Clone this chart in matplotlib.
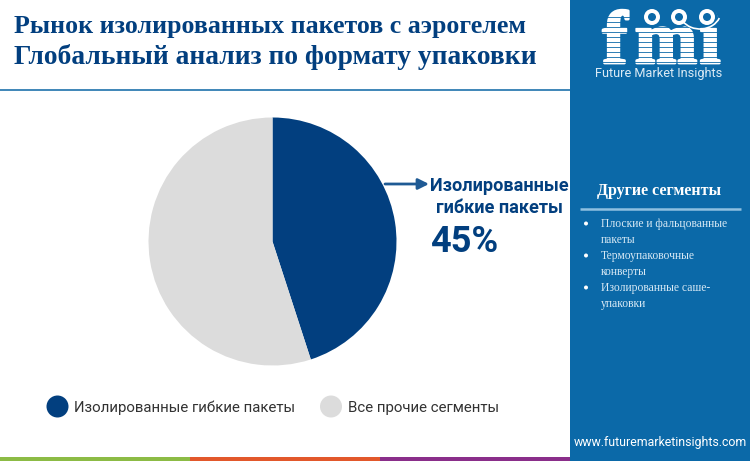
import matplotlib
matplotlib.use("Agg")
import matplotlib.pyplot as plt
import matplotlib.patheffects as pe
from matplotlib.patches import Rectangle, Circle, Arc

# values
segments = ["Изолированные гибкие пакеты", "Все прочие сегменты"]
shares = [45, 55]
colors = ["#023F7F", "#DCDCDC"]
title_lines = ["Рынок изолированных пакетов с аэрогелем", "Глобальный анализ по формату упаковки"]
callout_lines = ["Изолированные", "гибкие пакеты"]
callout_value = "45%"
side_title = "Другие сегменты"
side_items = [
    ["Плоские и фальцованные", "пакеты"],
    ["Термоупаковочные", "конверты"],
    ["Изолированные саше-", "упаковки"],
]
band_colors = ["#8CBB45", "#E2582B", "#8A2E8A"]

W, H = 750, 461
NAVY = "#023F7F"
PANEL = "#0B69A8"
SERIF = "Liberation Serif"

fig = plt.figure(figsize=(W / 100, H / 100), dpi=100)

# background layer in pixel coordinates, y going down
bg = fig.add_axes([0, 0, 1, 1])
bg.set_xlim(0, W)
bg.set_ylim(H, 0)
bg.axis("off")

bg.add_patch(Rectangle((570, 0), 180, H, color=PANEL, lw=0))
bg.plot([0, 570], [90, 90], color="#3E86B8", lw=1.4, solid_capstyle="butt")
for i, c in enumerate(band_colors):
    bg.add_patch(Rectangle((i * 190, 456.5), 190, 4.5, color=c, lw=0))

# title, second line is a bit larger to fill the same width as the reference
for y, line, fs in zip([27, 57], title_lines, [18.6, 19.8]):
    bg.text(14, y, line, family=SERIF, weight="bold", fontsize=fs, color=NAVY, va="center", ha="left")

# pie
pie_ax = fig.add_axes([(272.5 - 124) / W, 1 - (241.5 + 124) / H, 248 / W, 248 / H])
pie_ax.pie(shares, colors=colors, startangle=90, counterclock=False, radius=1.0)
pie_ax.set_xlim(-1, 1)
pie_ax.set_ylim(-1, 1)

# callout
bg.annotate("", xy=(429, 184), xytext=(385, 184),
            arrowprops=dict(arrowstyle="-|>", color="#1F5A94", lw=2, mutation_scale=16, shrinkA=0, shrinkB=0))
bg.text(499.5, 186, callout_lines[0], family="Roboto", weight="bold", fontsize=13.1, color=NAVY, ha="center", va="center")
bg.text(499, 208, callout_lines[1], family="Roboto", weight="bold", fontsize=13.1, color=NAVY, ha="center", va="center")
bg.text(430, 242, callout_value, family="Roboto", weight="bold", fontsize=26, color=NAVY, ha="left", va="center")

# legend
for x, seg, c, tx in zip([57.5, 331], segments, colors, [74, 348]):
    bg.add_patch(Circle((x, 406.5), 11, color=c, lw=0))
    bg.text(tx, 407.5, seg, family="Roboto", fontsize=10.8, color="#333333", ha="left", va="center")

# side panel
bg.text(659, 190.5, side_title, family=SERIF, weight="bold", fontsize=11.5, color="white", ha="center", va="center")
bg.plot([580, 741], [208.5, 208.5], color="#8FC0E0", lw=1.8, solid_capstyle="butt")
y = 223.5
for item in side_items:
    bg.add_patch(Circle((586, y), 2, color="white", lw=0))
    for line in item:
        bg.text(601, y, line, family=SERIF, fontsize=8.4, color="#D6E8F4", ha="left", va="center")
        y += 16

# logo: striped serif letters with three small globes
for letter, lx in zip("fmi", [615, 666, 710]):
    bg.text(lx, 63, letter, family=SERIF, weight="bold", fontsize=54, color="white", ha="center", va="baseline",
            path_effects=[pe.withStroke(linewidth=2, foreground="white")])
for sy in range(17, 66, 5):
    bg.plot([590, 730], [sy, sy], color=PANEL, lw=0.6, zorder=3.5)
for gx in [652, 679, 707]:
    bg.add_patch(Circle((gx, 17), 10.5, color=PANEL, lw=0, zorder=3.8))
    bg.add_patch(Circle((gx, 17), 8, color="white", lw=0, zorder=4))
    bg.add_patch(Circle((gx, 17), 4, color=PANEL, lw=0, zorder=5))
bg.add_patch(Arc((700, 11), 42, 36, theta1=20, theta2=150, color="white", lw=1.2, zorder=5))
bg.text(659, 74, "Future Market Insights", family="Roboto", fontsize=9.2, color="#DCEBF5", ha="center", va="center", zorder=6)

bg.text(660.5, 442, "www.futuremarketinsights.com", family="Roboto", fontsize=8.9, color="white", ha="center", va="center")

fig.savefig("out.png", dpi=100)
